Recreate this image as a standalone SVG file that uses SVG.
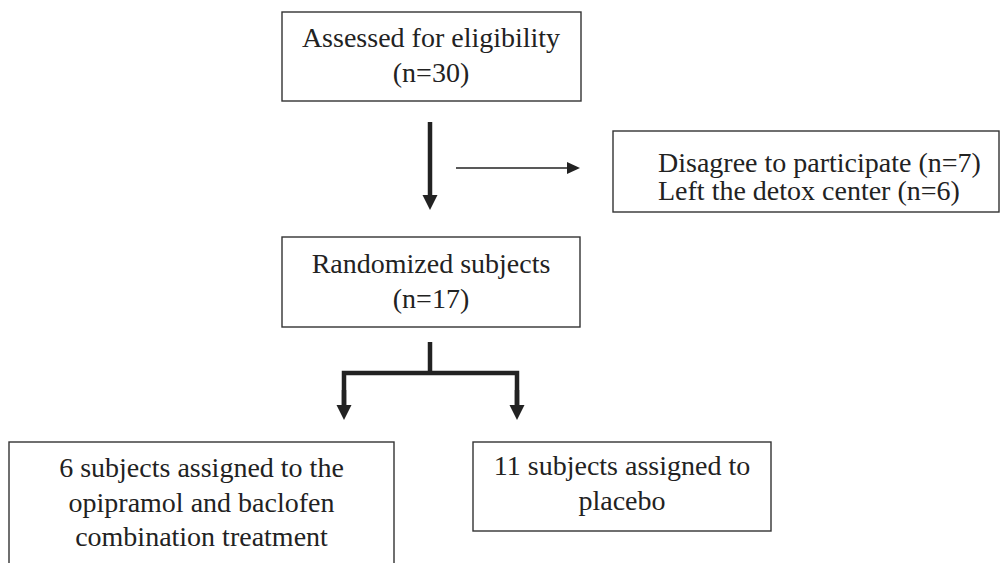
<svg xmlns="http://www.w3.org/2000/svg" width="1001" height="563" viewBox="0 0 1001 563">
  <style>
    .box { fill: #ffffff; stroke: #333333; stroke-width: 1.4; }
    .t { font-family: "Liberation Serif", "Times New Roman", serif; font-size: 28px; fill: #222222; }
    .c { text-anchor: middle; }
    .thick { stroke: #222222; stroke-width: 4.5; fill: none; }
    .thin { stroke: #222222; stroke-width: 1.6; fill: none; }
  </style>
  <defs>
    <marker id="headBig" markerUnits="userSpaceOnUse" markerWidth="16" markerHeight="16" refX="1" refY="7.5" orient="auto">
      <path d="M0,0 L15,7.5 L0,15 z" fill="#222222"/>
    </marker>
    <marker id="headSmall" markerUnits="userSpaceOnUse" markerWidth="14" markerHeight="13" refX="1" refY="6" orient="auto">
      <path d="M0,0 L13,6 L0,12 z" fill="#222222"/>
    </marker>
  </defs>
  <rect width="1001" height="563" fill="#ffffff"/>

  <g id="connectors">
    <line class="thick" x1="430" y1="122" x2="430" y2="196" marker-end="url(#headBig)"/>
    <line class="thin" x1="456" y1="168" x2="568" y2="168" marker-end="url(#headSmall)"/>
    <polyline class="thick" points="430,342 430,373"/>
    <polyline class="thick" points="344,406 344,373 517,373 517,406"/>
    <line class="thick" x1="344" y1="390" x2="344" y2="406" marker-end="url(#headBig)"/>
    <line class="thick" x1="517" y1="390" x2="517" y2="406" marker-end="url(#headBig)"/>
  </g>

  <g id="assessed">
    <rect class="box" x="282" y="12" width="299" height="89"/>
    <text class="t c" x="431" y="47">Assessed for eligibility</text>
    <text class="t c" x="431" y="82">(n=30)</text>
  </g>

  <g id="excluded">
    <rect class="box" x="613" y="131" width="386" height="81"/>
    <text class="t" x="658" y="172">Disagree to participate (n=7)</text>
    <text class="t" x="658" y="200">Left the detox center (n=6)</text>
  </g>

  <g id="randomized">
    <rect class="box" x="282" y="237" width="298" height="90"/>
    <text class="t c" x="431" y="273">Randomized subjects</text>
    <text class="t c" x="431" y="308">(n=17)</text>
  </g>

  <g id="combination">
    <rect class="box" x="9" y="442" width="385" height="130"/>
    <text class="t c" x="201.5" y="477">6 subjects assigned to the</text>
    <text class="t c" x="201.5" y="512">opipramol and baclofen</text>
    <text class="t c" x="201.5" y="546">combination treatment</text>
  </g>

  <g id="placebo">
    <rect class="box" x="473" y="442" width="298" height="89"/>
    <text class="t c" x="622" y="475">11 subjects assigned to</text>
    <text class="t c" x="622" y="510">placebo</text>
  </g>
</svg>
